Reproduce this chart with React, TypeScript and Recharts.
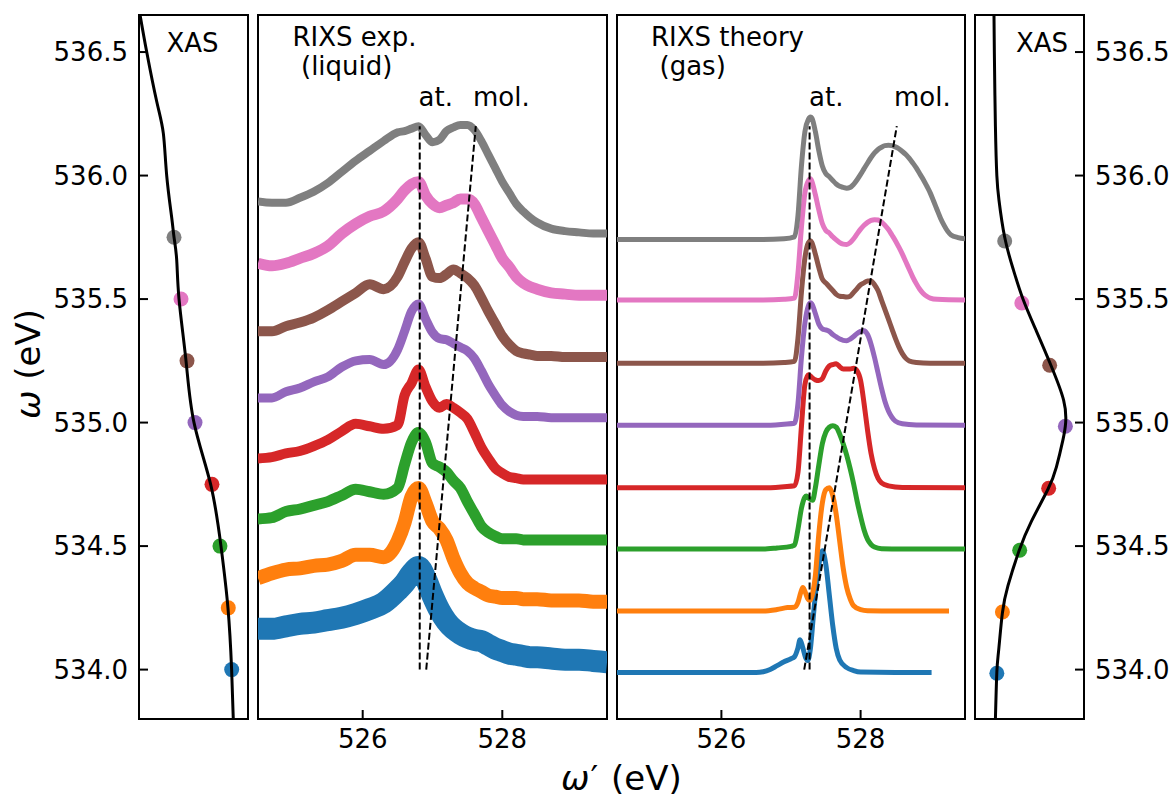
import React from "react";
import { ComposedChart, Line, Scatter, XAxis, YAxis, ReferenceArea } from "recharts";

const FONT = "'DejaVu Sans', Verdana, sans-serif";

// series order: blue (lowest ω) ... gray (highest ω)
const COLORS = ["#1f77b4", "#ff7f0e", "#2ca02c", "#d62728", "#9467bd", "#8c564b", "#e377c2", "#7f7f7f"];
const LEVELS = [534.0, 534.25, 534.5, 534.75, 535.0, 535.25, 535.5, 535.75];

const W_DOMAIN: [number, number] = [533.8, 536.65];
const W_TICKS = [534, 534.5, 535, 535.5, 536, 536.5];
const E_DOMAIN: [number, number] = [524.5, 529.5];
const E_TICKS = [526, 528];
const XAS_TICKS = [0, 1];

// ---- XAS, liquid (left panel): intensity vs ω
const xasLiqW = [536.65, 536.5, 536.3, 536.17, 536.0, 535.83, 535.75, 535.66, 535.5, 535.25, 535.0, 534.75, 534.5, 534.25, 534.0, 533.8];
const xasLiqI = [-0.4, -0.3, -0.15, -0.05, 0.0, 0.075, 0.11, 0.15, 0.185, 0.29, 0.41, 0.66, 0.815, 0.92, 0.975, 1.0];
const xasLiqDotI = [0.976, 0.925, 0.8, 0.68, 0.425, 0.305, 0.215, 0.11];

// ---- XAS, gas (right panel)
const xasGasW = [536.65, 536.5, 536.2, 536.0, 535.9, 535.75, 535.62, 535.5, 535.37, 535.23, 535.09, 535.0, 534.93, 534.82, 534.73, 534.6, 534.48, 534.34, 534.23, 534.08, 533.99, 533.8];
const xasGasI = [0.0, 0.005, 0.02, 0.04, 0.07, 0.15, 0.27, 0.406, 0.594, 0.8, 0.976, 1.004, 0.966, 0.874, 0.756, 0.524, 0.35, 0.196, 0.118, 0.066, 0.04, 0.02];
const xasGasDotW = [533.985, 534.233, 534.483, 534.734, 534.985, 535.232, 535.484, 535.735];
const xasGasDotI = [0.04, 0.118, 0.36, 0.766, 1.0, 0.78, 0.39, 0.15];

// ---- RIXS experiment (liquid): shared ω' grid, intensities in units of 0.5 eV above level
const expX = [524.5, 524.7, 524.9, 525.1, 525.3, 525.5, 525.7, 525.9, 526.1, 526.3, 526.5,
  526.6, 526.7, 526.8, 526.9, 527.0, 527.1, 527.2, 527.3, 527.4, 527.5,
  527.6, 527.7, 527.8, 527.9, 528.0, 528.1, 528.2, 528.3, 528.4, 528.5,
  528.7, 528.9, 529.1, 529.3, 529.5];
const expBlue = [0.33, 0.33, 0.35, 0.37, 0.38, 0.40, 0.42, 0.45, 0.49, 0.54, 0.64,
  0.70, 0.78, 0.83, 0.74, 0.60, 0.48, 0.39, 0.33, 0.29, 0.26,
  0.24, 0.23, 0.20, 0.17, 0.15, 0.13, 0.12, 0.11, 0.10, 0.10,
  0.09, 0.08, 0.08, 0.07, 0.06];
const expOrange = [0.24, 0.28, 0.31, 0.32, 0.34, 0.35, 0.38, 0.43, 0.43, 0.41, 0.54,
  0.69, 0.90, 0.97, 0.85, 0.70, 0.64, 0.55, 0.40, 0.28, 0.20,
  0.16, 0.13, 0.10, 0.09, 0.08, 0.08, 0.08, 0.07, 0.07, 0.07,
  0.06, 0.06, 0.06, 0.05, 0.05];
const expGreen = [0.22, 0.23, 0.28, 0.30, 0.33, 0.36, 0.41, 0.46, 0.44, 0.42, 0.47,
  0.66, 0.84, 0.92, 0.84, 0.67, 0.64, 0.60, 0.53, 0.47, 0.36,
  0.26, 0.16, 0.11, 0.08, 0.06, 0.06, 0.06, 0.05, 0.05, 0.05,
  0.05, 0.05, 0.05, 0.05, 0.05];
const expRed = [0.21, 0.22, 0.25, 0.27, 0.31, 0.36, 0.43, 0.49, 0.47, 0.45, 0.48,
  0.72, 0.82, 0.93, 0.79, 0.67, 0.62, 0.65, 0.62, 0.58, 0.53,
  0.42, 0.30, 0.21, 0.13, 0.09, 0.06, 0.05, 0.04, 0.04, 0.04,
  0.04, 0.04, 0.04, 0.04, 0.04];
const expPurple = [0.20, 0.20, 0.25, 0.28, 0.33, 0.37, 0.45, 0.50, 0.51, 0.47, 0.59,
  0.74, 0.90, 0.96, 0.84, 0.73, 0.68, 0.67, 0.64, 0.61, 0.58,
  0.52, 0.42, 0.31, 0.22, 0.14, 0.09, 0.06, 0.05, 0.05, 0.05,
  0.04, 0.04, 0.04, 0.04, 0.04];
const expBrown = [0.24, 0.24, 0.28, 0.31, 0.35, 0.41, 0.48, 0.55, 0.62, 0.58, 0.68,
  0.80, 0.91, 0.96, 0.83, 0.68, 0.67, 0.70, 0.74, 0.71, 0.67,
  0.61, 0.51, 0.40, 0.30, 0.20, 0.13, 0.08, 0.06, 0.05, 0.04,
  0.04, 0.03, 0.03, 0.03, 0.03];
const expPink = [0.29, 0.27, 0.29, 0.33, 0.37, 0.43, 0.53, 0.61, 0.67, 0.71, 0.81,
  0.88, 0.93, 0.95, 0.84, 0.77, 0.74, 0.76, 0.78, 0.81, 0.81,
  0.77, 0.66, 0.55, 0.44, 0.33, 0.26, 0.18, 0.13, 0.10, 0.08,
  0.05, 0.04, 0.03, 0.03, 0.03];
const expGray = [0.29, 0.28, 0.28, 0.32, 0.37, 0.44, 0.53, 0.62, 0.70, 0.78, 0.85,
  0.86, 0.88, 0.90, 0.83, 0.77, 0.79, 0.86, 0.89, 0.91, 0.91,
  0.87, 0.78, 0.67, 0.56, 0.45, 0.36, 0.27, 0.21, 0.16, 0.12,
  0.07, 0.05, 0.04, 0.03, 0.03];
const EXP = [expBlue, expOrange, expGreen, expRed, expPurple, expBrown, expPink, expGray];
const EXP_WIDTH = [22, 14, 11, 10, 9, 10, 11, 8];

// ---- RIXS theory (gas): [ω', intensity in units of 0.5 eV]
const thBaseline = [533.988, 534.237, 534.488, 534.736, 534.989, 535.24, 535.496, 535.741];
const thBlue = [[524.5, 0], [526.5, 0], [526.6, 0.006], [526.7, 0.025], [526.8, 0.056], [526.9, 0.087], [527.0, 0.112],
  [527.05, 0.128], [527.1, 0.2], [527.13, 0.266], [527.17, 0.2], [527.21, 0.12], [527.24, 0.098], [527.28, 0.2],
  [527.32, 0.45], [527.38, 0.784], [527.45, 0.986], [527.5, 0.876], [527.55, 0.63], [527.6, 0.38], [527.65, 0.195],
  [527.7, 0.102], [527.8, 0.04], [527.9, 0.016], [528.0, 0.004], [528.5, 0], [529.02, 0]];
const thOrange = [[524.5, 0], [526.6, 0], [526.8, 0.012], [526.95, 0.028], [527.05, 0.031], [527.1, 0.07], [527.14, 0.15],
  [527.17, 0.19], [527.2, 0.16], [527.24, 0.1], [527.27, 0.085], [527.3, 0.12], [527.35, 0.285], [527.4, 0.626],
  [527.45, 0.874], [527.5, 0.982], [527.55, 0.998], [527.6, 0.936], [527.65, 0.781], [527.7, 0.564], [527.75, 0.347],
  [527.8, 0.192], [527.85, 0.099], [527.9, 0.043], [528.0, 0.012], [528.1, 0.003], [528.5, 0], [529.27, 0]];
const thGreen = [[524.5, 0], [526.6, 0], [526.8, 0.009], [527.0, 0.022], [527.05, 0.031], [527.1, 0.16], [527.15, 0.33],
  [527.2, 0.42], [527.22, 0.43], [527.26, 0.41], [527.31, 0.395], [527.35, 0.496], [527.4, 0.682], [527.45, 0.853],
  [527.5, 0.946], [527.55, 0.986], [527.6, 0.998], [527.65, 0.986], [527.7, 0.93], [527.75, 0.853], [527.8, 0.76],
  [527.85, 0.651], [527.9, 0.527], [527.95, 0.388], [528.0, 0.264], [528.05, 0.155], [528.1, 0.078], [528.15, 0.037],
  [528.2, 0.016], [528.3, 0.003], [528.6, 0], [529.5, 0]];
const thRed = [[524.5, 0], [526.6, 0], [526.9, 0.009], [527.05, 0.016], [527.1, 0.124], [527.15, 0.496], [527.2, 0.837],
  [527.25, 0.915], [527.3, 0.893], [527.35, 0.874], [527.4, 0.868], [527.45, 0.884], [527.5, 0.946], [527.55, 0.986],
  [527.6, 0.998], [527.65, 1.004], [527.7, 0.98], [527.75, 0.961], [527.8, 0.961], [527.85, 0.961], [527.9, 0.967],
  [527.95, 0.946], [528.0, 0.868], [528.05, 0.682], [528.1, 0.465], [528.15, 0.279], [528.2, 0.155], [528.25, 0.078],
  [528.3, 0.04], [528.4, 0.016], [528.6, 0.003], [529.5, 0]];
const thPurple = [[524.5, 0], [526.6, 0], [526.9, 0.009], [527.05, 0.016], [527.1, 0.177], [527.15, 0.549], [527.2, 0.828],
  [527.25, 0.968], [527.28, 0.992], [527.3, 0.983], [527.35, 0.905], [527.4, 0.819], [527.45, 0.781], [527.5, 0.772],
  [527.55, 0.76], [527.6, 0.735], [527.65, 0.716], [527.7, 0.698], [527.75, 0.688], [527.8, 0.685], [527.85, 0.698],
  [527.9, 0.719], [527.95, 0.744], [528.0, 0.76], [528.05, 0.766], [528.1, 0.735], [528.15, 0.657], [528.2, 0.549],
  [528.25, 0.425], [528.3, 0.301], [528.35, 0.192], [528.4, 0.115], [528.45, 0.065], [528.5, 0.034], [528.6, 0.012],
  [528.8, 0.003], [529.5, 0]];
const thBrown = [[524.5, 0], [526.6, 0], [526.9, 0.006], [527.05, 0.016], [527.1, 0.202], [527.15, 0.574], [527.2, 0.853],
  [527.25, 0.977], [527.28, 0.992], [527.3, 0.977], [527.35, 0.884], [527.4, 0.775], [527.45, 0.682], [527.5, 0.651],
  [527.55, 0.62], [527.6, 0.589], [527.65, 0.558], [527.7, 0.543], [527.75, 0.54], [527.8, 0.536], [527.85, 0.543],
  [527.9, 0.574], [527.95, 0.605], [528.0, 0.636], [528.05, 0.651], [528.1, 0.667], [528.15, 0.667], [528.2, 0.636],
  [528.25, 0.589], [528.3, 0.512], [528.35, 0.434], [528.4, 0.357], [528.45, 0.279], [528.5, 0.202], [528.55, 0.133],
  [528.6, 0.078], [528.65, 0.04], [528.7, 0.019], [528.8, 0.006], [529.0, 0], [529.5, 0]];
const thPink = [[524.5, 0], [526.6, 0], [526.9, 0.006], [527.05, 0.016], [527.1, 0.217], [527.15, 0.589], [527.2, 0.868],
  [527.25, 0.967], [527.28, 0.983], [527.3, 0.961], [527.35, 0.853], [527.4, 0.729], [527.45, 0.62], [527.5, 0.564],
  [527.55, 0.543], [527.6, 0.512], [527.65, 0.487], [527.7, 0.465], [527.75, 0.453], [527.8, 0.45], [527.85, 0.465],
  [527.9, 0.496], [527.95, 0.536], [528.0, 0.574], [528.05, 0.605], [528.1, 0.629], [528.15, 0.645], [528.2, 0.651],
  [528.25, 0.648], [528.3, 0.633], [528.35, 0.605], [528.4, 0.571], [528.45, 0.527], [528.5, 0.481], [528.55, 0.428],
  [528.6, 0.372], [528.65, 0.31], [528.7, 0.248], [528.75, 0.186], [528.8, 0.133], [528.85, 0.087], [528.9, 0.053],
  [528.95, 0.031], [529.0, 0.016], [529.1, 0.006], [529.5, 0]];
const thGray = [[524.5, 0], [526.6, 0], [526.9, 0.006], [527.05, 0.022], [527.1, 0.192], [527.15, 0.595], [527.2, 0.874],
  [527.25, 0.973], [527.28, 0.992], [527.3, 0.983], [527.35, 0.874], [527.4, 0.719], [527.45, 0.595], [527.5, 0.533],
  [527.55, 0.509], [527.6, 0.478], [527.65, 0.45], [527.7, 0.431], [527.75, 0.422], [527.8, 0.416], [527.85, 0.422],
  [527.9, 0.447], [527.95, 0.484], [528.0, 0.527], [528.05, 0.574], [528.1, 0.62], [528.15, 0.664], [528.2, 0.701],
  [528.25, 0.729], [528.3, 0.747], [528.35, 0.76], [528.4, 0.763], [528.45, 0.76], [528.5, 0.75], [528.55, 0.735],
  [528.6, 0.713], [528.65, 0.688], [528.7, 0.657], [528.75, 0.62], [528.8, 0.58], [528.85, 0.533], [528.9, 0.487],
  [528.95, 0.434], [529.0, 0.378], [529.05, 0.31], [529.1, 0.239], [529.15, 0.171], [529.2, 0.115], [529.25, 0.068],
  [529.3, 0.037], [529.4, 0.016], [529.5, 0.006]];
const THEORY = [thBlue, thOrange, thGreen, thRed, thPurple, thBrown, thPink, thGray];

// guide lines "at." and "mol." [ω', ω]
const expAt = [[526.817, 534.0], [526.817, 536.2]];
const expMol = [[526.91, 534.0], [527.62, 536.2]];
const thAt = [[527.267, 534.0], [527.267, 536.2]];
const thMol = [[527.19, 534.0], [528.52, 536.2]];

const SCALE = 0.5; // eV of ω per unit intensity

const TICK_LINE = { stroke: "#000", strokeWidth: 2 };
const TICK_TEXT = { fontSize: 26, fill: "#000", fontFamily: FONT };
const fmt = (v: number) => v.toFixed(1);

const pairs = (pts: number[][]) => pts.map(([x, y]) => ({ x, y }));

type PanelProps = {
  plotLeft: number;
  plotWidth: number;
  leftW: number;
  rightW: number;
  xDomain: [number, number];
  xTicks: number[];
  xLabels: boolean;
  leftLabels: boolean;
  rightLabels: boolean;
  children: React.ReactNode;
};

function Panel({ plotLeft, plotWidth, leftW, rightW, xDomain, xTicks, xLabels, leftLabels, rightLabels, children }: PanelProps) {
  return (
    <div style={{ position: "absolute", left: plotLeft - leftW, top: 0 }}>
      <ComposedChart width={leftW + plotWidth + rightW} height={799} margin={{ top: 15, right: 0, bottom: 40, left: 0 }}>
        <XAxis
          type="number" dataKey="x" domain={xDomain} ticks={xTicks} interval={0} allowDataOverflow
          height={40} axisLine={false} tickSize={-9} tickMargin={20} tickLine={TICK_LINE}
          tick={xLabels ? TICK_TEXT : false}
        />
        <YAxis
          type="number" domain={W_DOMAIN} ticks={W_TICKS} interval={0} allowDataOverflow
          width={leftW} axisLine={false} tickSize={-9} tickMargin={20} tickLine={TICK_LINE}
          tick={leftLabels ? TICK_TEXT : false} tickFormatter={fmt}
        />
        <YAxis
          yAxisId="r" orientation="right" type="number" domain={W_DOMAIN} ticks={W_TICKS} interval={0} allowDataOverflow
          width={rightW} axisLine={false} tickSize={-9} tickMargin={20} tickLine={TICK_LINE}
          tick={rightLabels ? TICK_TEXT : false} tickFormatter={fmt}
        />
        <ReferenceArea
          x1={xDomain[0]} x2={xDomain[1]} y1={W_DOMAIN[0]} y2={W_DOMAIN[1]}
          fill="none" fillOpacity={0} stroke="#000" strokeWidth={2}
        />
        {children}
      </ComposedChart>
    </div>
  );
}

const dotShape = (p: any) => <circle cx={p.cx} cy={p.cy} r={7.5} fill={p.payload.c} />;

export default function App() {
  const liqLine = xasLiqW.map((w, i) => ({ x: xasLiqI[i], y: w }));
  const liqDots = LEVELS.map((w, i) => ({ x: xasLiqDotI[i], y: w, c: COLORS[i] }));
  const gasLine = xasGasW.map((w, i) => ({ x: xasGasI[i], y: w }));
  const gasDots = xasGasDotW.map((w, i) => ({ x: xasGasDotI[i], y: w, c: COLORS[i] }));

  const expSeries = EXP.map((vals, i) => expX.map((x, j) => ({ x, y: LEVELS[i] + vals[j] * SCALE })));
  const thSeries = THEORY.map((pts, i) => pts.map(([x, v]) => ({ x, y: thBaseline[i] + v * SCALE })));

  const dash = (key: string, pts: number[][]) => (
    <Line key={key} data={pairs(pts)} dataKey="y" type="linear" stroke="#000" strokeWidth={2}
      strokeDasharray="7 3" dot={false} isAnimationActive={false} />
  );

  return (
    <div style={{ position: "absolute", left: 0, top: 0, width: 1172, height: 799, background: "#fff", fontFamily: FONT }}>
      {/* XAS liquid */}
      <Panel plotLeft={139} plotWidth={109} leftW={139} rightW={10} xDomain={[-0.416, 1.221]} xTicks={XAS_TICKS}
        xLabels={false} leftLabels={true} rightLabels={false}>
        {[
          <Scatter key="d" data={liqDots} dataKey="y" shape={dotShape} isAnimationActive={false} />,
          <Line key="l" data={liqLine} dataKey="y" type="natural" stroke="#000" strokeWidth={3} dot={false}
            isAnimationActive={false} zIndex={700} />,
        ]}
      </Panel>

      {/* RIXS experiment */}
      <Panel plotLeft={258} plotWidth={349} leftW={10} rightW={10} xDomain={E_DOMAIN} xTicks={E_TICKS}
        xLabels={true} leftLabels={false} rightLabels={false}>
        {[
          ...expSeries.map((d, i) => (
            <Line key={`e${i}`} data={d} dataKey="y" type="monotone" stroke={COLORS[i]} strokeWidth={EXP_WIDTH[i]}
              strokeLinejoin="round" dot={false} isAnimationActive={false} />
          )),
          dash("ea", expAt),
          dash("em", expMol),
        ]}
      </Panel>

      {/* RIXS theory */}
      <Panel plotLeft={617} plotWidth={348} leftW={10} rightW={10} xDomain={E_DOMAIN} xTicks={E_TICKS}
        xLabels={true} leftLabels={false} rightLabels={false}>
        {[
          ...thSeries.map((d, i) => (
            <Line key={`t${i}`} data={d} dataKey="y" type="monotone" stroke={COLORS[i]} strokeWidth={5}
              strokeLinejoin="round" dot={false} isAnimationActive={false} />
          )),
          dash("ta", thAt),
          dash("tm", thMol),
        ]}
      </Panel>

      {/* XAS gas */}
      <Panel plotLeft={975} plotWidth={109} leftW={10} rightW={85} xDomain={[-0.266, 1.261]} xTicks={XAS_TICKS}
        xLabels={false} leftLabels={false} rightLabels={true}>
        {[
          <Scatter key="d" data={gasDots} dataKey="y" shape={dotShape} isAnimationActive={false} />,
          <Line key="l" data={gasLine} dataKey="y" type="natural" stroke="#000" strokeWidth={3} dot={false}
            isAnimationActive={false} zIndex={700} />,
        ]}
      </Panel>

      <svg width={1172} height={799} style={{ position: "absolute", left: 0, top: 0, pointerEvents: "none" }}
        fontFamily={FONT} fill="#000">
        <text x={192.5} y={52} fontSize={26} textAnchor="middle">XAS</text>
        <text x={1042} y={52} fontSize={26} textAnchor="middle">XAS</text>
        <text x={292.5} y={46} fontSize={26}>RIXS exp.</text>
        <text x={301} y={75} fontSize={26}>(liquid)</text>
        <text x={418.5} y={106} fontSize={26}>at.</text>
        <text x={473} y={106} fontSize={26}>mol.</text>
        <text x={651} y={46} fontSize={26}>RIXS theory</text>
        <text x={659.5} y={75} fontSize={26}>(gas)</text>
        <text x={809} y={106} fontSize={26}>at.</text>
        <text x={894} y={106} fontSize={26}>mol.</text>
        <text transform="translate(40,364) rotate(-90)" fontSize={34} textAnchor="middle">
          <tspan fontStyle="italic">ω</tspan> (eV)
        </text>
        <text x={561} y={790} fontSize={34}>
          <tspan fontStyle="italic">ω</tspan>
          <tspan dx={1}>′</tspan>
          <tspan dx={2}> (eV)</tspan>
        </text>
      </svg>
    </div>
  );
}
